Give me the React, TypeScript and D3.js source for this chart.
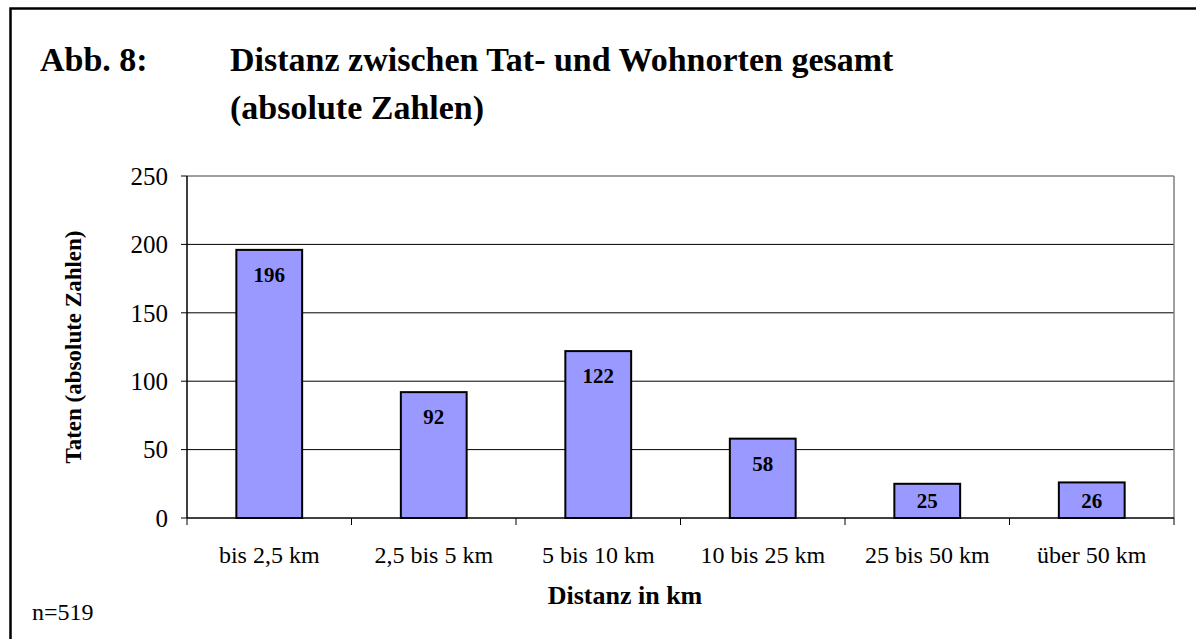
import React from 'react'
import * as d3 from 'd3'

const categories = ['bis 2,5 km', '2,5 bis 5 km', '5 bis 10 km', '10 bis 25 km', '25 bis 50 km', 'über 50 km']
const taten = [196, 92, 122, 58, 25, 26]
const yTicks = [0, 50, 100, 150, 200, 250]

const titleNo = 'Abb. 8:'
const titleLines = ['Distanz zwischen Tat- und Wohnorten gesamt', '(absolute Zahlen)']
const xTitle = 'Distanz in km'
const yTitle = 'Taten (absolute Zahlen)'
const note = 'n=519'

const W = 1196
const H = 639
const margin = { top: 176, left: 187, right: 22, bottom: 121 }
const font = '"Liberation Serif", "Times New Roman", serif'

export default function App() {
	const innerW = W - margin.left - margin.right
	const innerH = H - margin.top - margin.bottom

	const x = d3.scaleBand()
		.domain(categories)
		.range([0, innerW])
		.paddingInner(0.6)
		.paddingOuter(0.3)

	const y = d3.scaleLinear()
		.domain([0, 250])
		.range([innerH, 0])

	const step = x.step()
	const boundaries = d3.range(categories.length + 1).map(i => i * step)

	return (
		<svg width={W} height={H} style={{ position: 'absolute', left: 0, top: 0, display: 'block', background: '#fff' }} fontFamily={font}>
			{/* frame */}
			<rect x={10.5} y={8.5} width={1300} height={800} fill="none" stroke="#000" strokeWidth={2.5} />

			{/* title */}
			<text x={40} y={71} fontSize={34} fontWeight="bold">{titleNo}</text>
			{titleLines.map((t, i) => (
				<text key={i} x={230} y={71 + i * 48} fontSize={34} fontWeight="bold">{t}</text>
			))}

			<g transform={`translate(${margin.left},${margin.top})`}>
				{/* gridlines */}
				{yTicks.filter(t => t > 0 && t < 250).map(t => (
					<line key={t} x1={0} x2={innerW} y1={y(t)} y2={y(t)} stroke="#000" strokeWidth={1} />
				))}
				{/* plot border top / right */}
				<line x1={0} x2={innerW} y1={y(250)} y2={y(250)} stroke="#808080" strokeWidth={1.5} />
				<line x1={innerW} x2={innerW} y1={y(250)} y2={innerH} stroke="#808080" strokeWidth={1.5} />

				{/* bars */}
				{taten.map((v, i) => (
					<rect key={i}
						x={x(categories[i])}
						y={y(v)}
						width={x.bandwidth()}
						height={innerH - y(v)}
						fill="#9999ff"
						stroke="#000"
						strokeWidth={2} />
				))}

				{/* value labels */}
				{taten.map((v, i) => {
					const top = y(v)
					const cy = Math.min(top + 25, (top + innerH) / 2)
					return (
						<text key={i} x={x(categories[i]) + x.bandwidth() / 2} y={cy} dy="0.35em"
							textAnchor="middle" fontSize={21} fontWeight="bold">{v}</text>
					)
				})}

				{/* y axis */}
				<line x1={0} x2={0} y1={0} y2={innerH} stroke="#000" strokeWidth={1.5} />
				{yTicks.map(t => (
					<g key={t} transform={`translate(0,${y(t)})`}>
						<line x1={-6} x2={0} stroke="#000" strokeWidth={1} />
						<text x={-19} dy="0.35em" textAnchor="end" fontSize={25}>{t}</text>
					</g>
				))}

				{/* x axis */}
				<line x1={0} x2={innerW} y1={innerH} y2={innerH} stroke="#000" strokeWidth={1.5} />
				{boundaries.map((b, i) => (
					<line key={i} x1={b} x2={b} y1={innerH} y2={innerH + 7} stroke="#000" strokeWidth={1} />
				))}
				{categories.map(c => (
					<text key={c} x={x(c) + x.bandwidth() / 2} y={innerH + 45} textAnchor="middle" fontSize={24}>{c}</text>
				))}

				{/* axis titles */}
				<text x={625 - margin.left} y={innerH + 86} textAnchor="middle" fontSize={26} fontWeight="bold">{xTitle}</text>
				<text transform={`translate(${81 - margin.left},${347 - margin.top}) rotate(-90)`} textAnchor="middle" fontSize={23} fontWeight="bold">{yTitle}</text>
			</g>

			<text x={32} y={620} fontSize={24}>{note}</text>
		</svg>
	)
}
